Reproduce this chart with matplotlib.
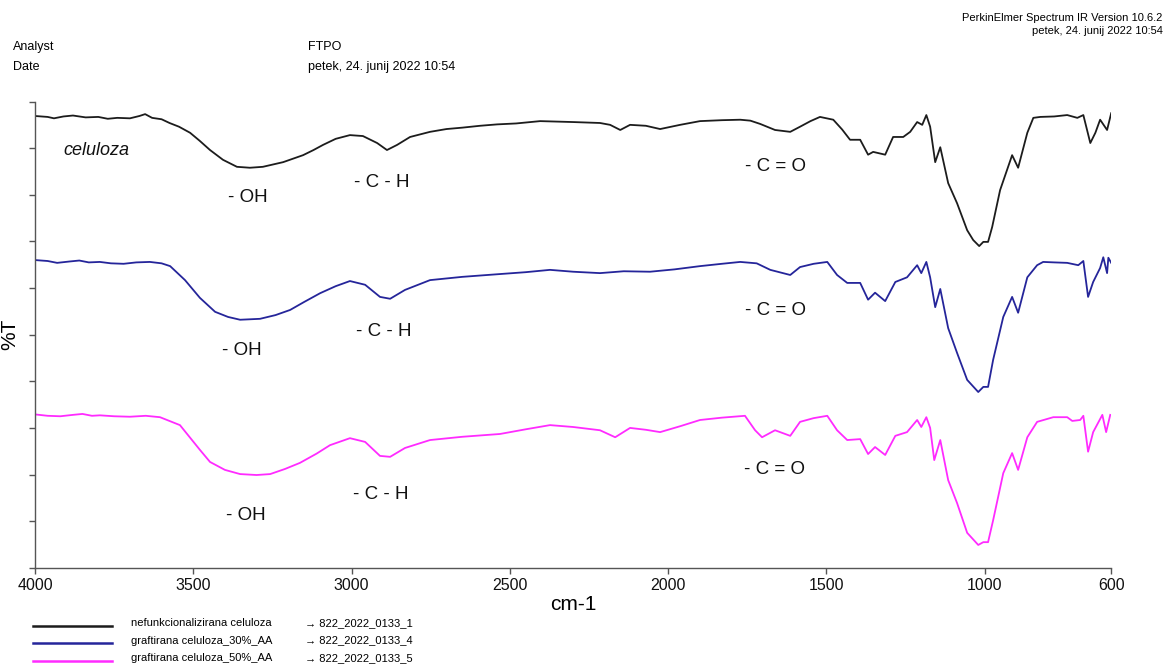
import matplotlib
matplotlib.use("Agg")
import matplotlib.pyplot as plt

plt.rcParams['font.family'] = ['Liberation Sans', 'DejaVu Sans']

# wavenumber (cm-1) / %T pairs for each spectrum (stacked with offsets)
wn_cel = [4000, 3960, 3940, 3910, 3880, 3840, 3800, 3770, 3740, 3700, 3670, 3652, 3630, 3600,
          3575, 3545, 3510, 3480, 3447, 3406, 3362, 3321, 3280, 3216, 3153, 3120, 3090,
          3050, 3005, 2964, 2919, 2888, 2856, 2815, 2752, 2700, 2650, 2594, 2540, 2480,
          2404, 2300, 2215, 2183, 2151, 2120, 2070, 2025, 1962, 1899, 1830, 1772, 1740,
          1709, 1662, 1614, 1583, 1550, 1520, 1478, 1450, 1425, 1393, 1368, 1352, 1314,
          1289, 1257, 1235, 1213, 1197, 1184, 1172, 1156, 1140, 1115, 1087, 1055, 1036,
          1017, 1004, 989, 976, 951, 913, 894, 865, 846, 824, 780, 739, 707, 688, 666,
          650, 635, 613, 600]
t_cel = [96.9, 96.7, 96.4, 96.8, 97.0, 96.6, 96.7, 96.3, 96.5, 96.4, 96.9, 97.3, 96.5, 96.2,
         95.4, 94.6, 93.3, 91.6, 89.6, 87.5, 86.0, 85.8, 86.0, 87.0, 88.5, 89.6, 90.7,
         92.0, 92.8, 92.6, 91.1, 89.6, 90.7, 92.4, 93.5, 94.1, 94.4, 94.8, 95.1, 95.3,
         95.8, 95.6, 95.4, 95.0, 93.9, 95.0, 94.8, 94.1, 95.0, 95.8, 96.0, 96.1, 95.9,
         95.2, 93.9, 93.5, 94.6, 95.8, 96.7, 96.1, 94.0, 91.8, 91.8, 88.6, 89.2, 88.6,
         92.4, 92.4, 93.5, 95.6, 95.0, 97.1, 94.6, 87.0, 90.2, 82.5, 78.2, 72.4, 70.3,
         69.0, 69.9, 69.9, 73.1, 81.0, 88.5, 85.8, 93.3, 96.5, 96.7, 96.8, 97.1, 96.5,
         97.1, 91.1, 93.3, 96.1, 93.9, 97.5]

wn_30 = [4000, 3960, 3930, 3890, 3860, 3830, 3795, 3760, 3720, 3680, 3637, 3600, 3573, 3526,
         3479, 3431, 3390, 3352, 3289, 3240, 3194, 3150, 3099, 3050, 3005, 2957, 2910,
         2878, 2831, 2752, 2650, 2531, 2450, 2373, 2300, 2215, 2140, 2057, 1980, 1899,
         1830, 1772, 1720, 1677, 1614, 1583, 1540, 1497, 1466, 1434, 1393, 1368, 1346,
         1314, 1282, 1245, 1213, 1200, 1184, 1172, 1156, 1140, 1115, 1087, 1055, 1020,
         1004, 989, 973, 941, 913, 894, 865, 834, 815, 780, 739, 704, 688, 673, 657,
         635, 625, 613, 609, 600]
t_30 = [66.0, 65.8, 65.4, 65.7, 65.9, 65.5, 65.6, 65.3, 65.2, 65.5, 65.6, 65.3, 64.7, 61.7,
        57.9, 54.9, 53.8, 53.2, 53.4, 54.2, 55.3, 57.0, 58.9, 60.4, 61.5, 60.7, 58.1,
        57.7, 59.6, 61.7, 62.4, 63.0, 63.4, 63.9, 63.5, 63.2, 63.6, 63.5, 64.0, 64.7,
        65.2, 65.6, 65.3, 63.9, 62.8, 64.5, 65.2, 65.6, 62.8, 61.1, 61.1, 57.5, 59.0,
        57.2, 61.3, 62.3, 64.9, 63.2, 65.6, 62.3, 55.9, 59.8, 51.4, 46.1, 40.3, 37.7,
        38.8, 38.8, 44.6, 53.8, 58.1, 54.7, 62.3, 64.9, 65.6, 65.5, 65.4, 64.9, 65.8,
        58.1, 61.3, 64.3, 66.6, 63.2, 66.5, 65.4]

wn_50 = [4000, 3960, 3920, 3880, 3850, 3820, 3795, 3750, 3700, 3650, 3605, 3542, 3479, 3447,
         3400, 3352, 3300, 3257, 3210, 3163, 3110, 3068, 3005, 2957, 2910, 2878, 2831,
         2752, 2650, 2531, 2450, 2373, 2300, 2215, 2167, 2120, 2070, 2025, 1960, 1899,
         1830, 1757, 1725, 1703, 1662, 1614, 1583, 1540, 1497, 1466, 1434, 1393, 1368,
         1346, 1314, 1282, 1245, 1213, 1200, 1184, 1172, 1159, 1140, 1115, 1087, 1055,
         1020, 1004, 989, 973, 941, 913, 894, 865, 834, 783, 739, 723, 698, 688, 673,
         657, 628, 616, 603]
t_50 = [32.9, 32.6, 32.5, 32.8, 33.0, 32.6, 32.7, 32.5, 32.4, 32.6, 32.3, 30.6, 25.3, 22.7,
        21.0, 20.1, 19.9, 20.1, 21.2, 22.5, 24.5, 26.3, 27.8, 27.0, 24.0, 23.8, 25.7,
        27.4, 28.1, 28.7, 29.7, 30.6, 30.2, 29.5, 28.0, 30.0, 29.6, 29.1, 30.4, 31.7,
        32.2, 32.6, 29.5, 28.0, 29.5, 28.3, 31.3, 32.1, 32.6, 29.5, 27.4, 27.6, 24.4,
        25.9, 24.2, 28.3, 29.1, 31.7, 30.2, 32.3, 30.0, 23.1, 27.4, 18.8, 13.9, 7.5,
        4.9, 5.5, 5.5, 10.2, 20.3, 24.6, 21.0, 28.0, 31.3, 32.3, 32.3, 31.5, 31.7, 32.6,
        24.9, 29.1, 32.8, 29.1, 32.8]

series = [
    (wn_cel, t_cel, '#1c1c1c', 'nefunkcionalizirana celuloza', '822_2022_0133_1'),
    (wn_30, t_30, '#25259a', 'graftirana celuloza_30%_AA', '822_2022_0133_4'),
    (wn_50, t_50, '#ff2bff', 'graftirana celuloza_50%_AA', '822_2022_0133_5'),
]

# band labels: (text, wavenumber, %T)
bands = [
    ('- OH', 3327, 79.5), ('- C - H', 2903, 82.7), ('- C = O', 1662, 86.0),
    ('- OH', 3346, 46.5), ('- C - H', 2897, 50.6), ('- C = O', 1662, 55.1),
    ('- OH', 3333, 11.3), ('- C - H', 2907, 15.8), ('- C = O', 1665, 21.0),
]

fig = plt.figure(figsize=(11.66, 6.68), dpi=100)
ax = fig.add_axes([0.030, 0.150, 0.923, 0.698])

for wn, t, col, name, code in series:
    ax.plot(wn, t, color=col, lw=1.3, solid_joinstyle='round')

for txt, x, y in bands:
    ax.text(x, y, txt, fontsize=13.5, ha='center', va='center', color='#111')
ax.text(3911, 89.6, 'celuloza', fontsize=13, style='italic', ha='left', va='center', color='#111')

ax.set_xlim(4000, 600)
ax.set_ylim(0, 100)
ax.set_xticks([4000, 3500, 3000, 2500, 2000, 1500, 1000, 600])
ax.set_xticklabels(['4000', '3500', '3000', '2500', '2000', '1500', '1000', '600'])
ax.set_yticks(range(0, 101, 10))
ax.set_yticklabels([])
ax.tick_params(axis='both', direction='out', length=4, width=1, colors='#555',
               labelcolor='#111', labelsize=11.5)
for side in ['top', 'right']:
    ax.spines[side].set_visible(False)
for side in ['left', 'bottom']:
    ax.spines[side].set_color('#555')
    ax.spines[side].set_linewidth(1)
ax.set_xlabel('cm-1', fontsize=15, labelpad=1)
ax.set_ylabel('%T', fontsize=15, labelpad=4)

# header block
fig.text(0.011, 0.930, 'Analyst', fontsize=9, va='center')
fig.text(0.011, 0.900, 'Date', fontsize=9, va='center')
fig.text(0.264, 0.930, 'FTPO', fontsize=9, va='center')
fig.text(0.264, 0.900, 'petek, 24. junij 2022 10:54', fontsize=9, va='center')
fig.text(0.997, 0.973, 'PerkinElmer Spectrum IR Version 10.6.2', fontsize=8, ha='right', va='center')
fig.text(0.997, 0.954, 'petek, 24. junij 2022 10:54', fontsize=8, ha='right', va='center')

# legend block under the axis
for i, (wn, t, col, name, code) in enumerate(series):
    yy = 0.063 - i * 0.026
    fig.add_artist(plt.Line2D([0.028, 0.096], [yy, yy], color=col, lw=1.8,
                              transform=fig.transFigure))
    fig.text(0.112, yy + 0.004, name, fontsize=8, va='center')
    fig.text(0.262, yy + 0.004, '\u2192 ' + code, fontsize=8, va='center')

fig.savefig('out.png', dpi=100)
